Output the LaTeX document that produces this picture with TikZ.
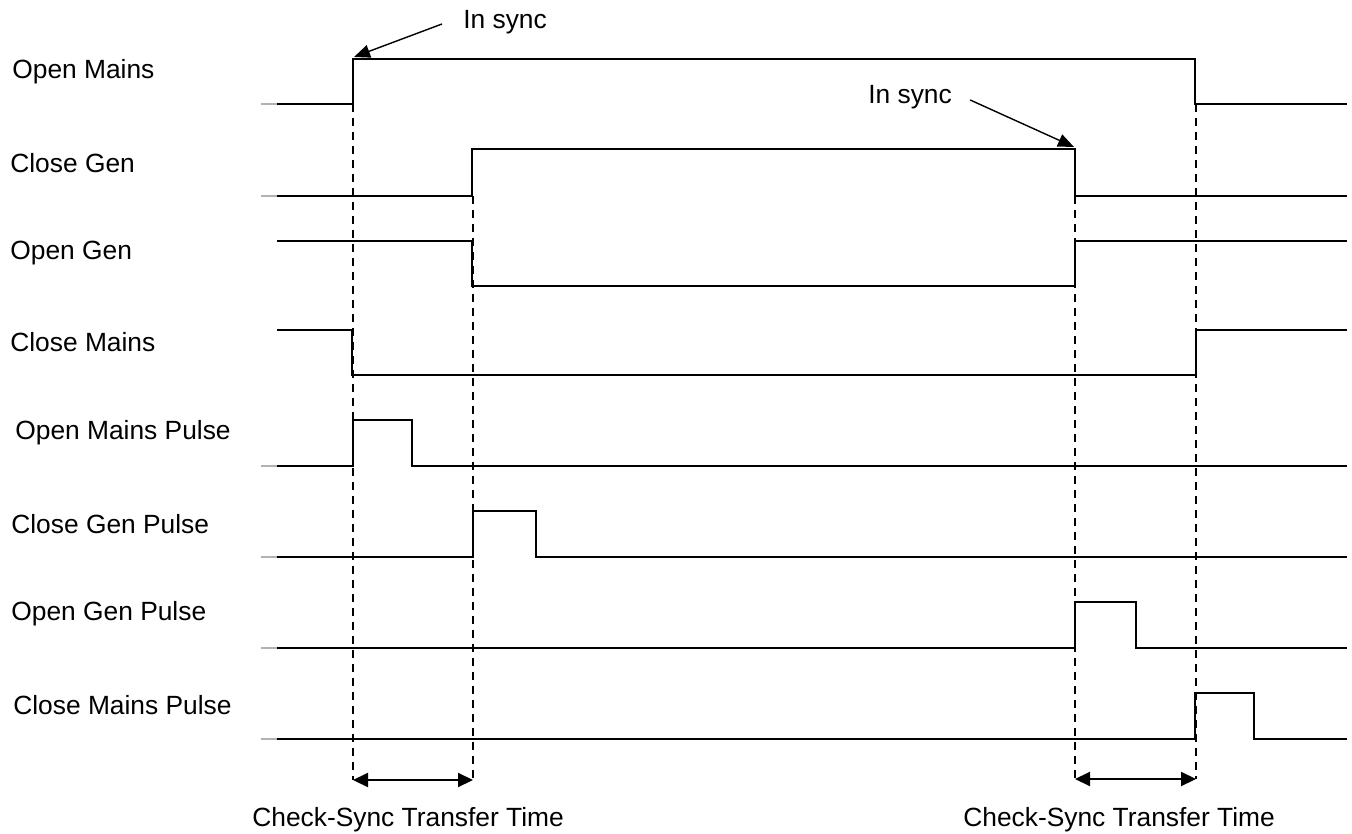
\documentclass[tikz,border=0pt]{standalone}
\usepackage{fontspec}
\setmainfont{Liberation Sans}
\usetikzlibrary{arrows.meta}
\tikzset{
  sig/.style={line width=1.1pt,line join=miter},
  tick/.style={gray!60,line width=0.6pt},
  guide/.style={line width=0.8pt,dash pattern=on 0.17cm off 0.11cm},
  lbl/.style={anchor=west,inner sep=0pt,font=\fontsize{15}{18}\selectfont},
  span/.style={{Triangle[length=0.3cm,width=0.28cm]}-{Triangle[length=0.3cm,width=0.28cm]},line width=1.2pt},
  pointer/.style={-{Triangle[length=0.32cm,width=0.26cm]},line width=0.8pt}
}
\begin{document}
\begin{tikzpicture}[x=0.02cm,y=-0.02cm]
    \useasboundingbox (0,0) rectangle (1352,834);
    % signal names
    \foreach \n/\x/\y/\t in {om/12/72/Open Mains, cg/10/163/Close Gen, og/10/253/Open Gen,
        cm/10/342/Close Mains, omp/15/433/Open Mains Pulse, cgp/11/524/Close Gen Pulse,
        ogp/11/614/Open Gen Pulse, cmp/13/705/Close Mains Pulse}
      \node[lbl] (\n) at (\x,\y) {\t};
    % waveforms
    \foreach \y in {104,196,466,557,648,739}
      \draw[tick] (261,\y) -- (277,\y);
    \draw[sig] (277,104) -- (353,104) -- (353,59) -- (1195,59) -- (1195,104) -- (1347,104);
    \draw[sig] (277,196) -- (472,196) -- (472,149) -- (1075,149) -- (1075,196) -- (1347,196);
    \draw[sig] (277,241) -- (472,241) -- (472,286) -- (1075,286) -- (1075,241) -- (1347,241);
    \draw[sig] (277,330) -- (352,330) -- (352,375) -- (1196,375) -- (1196,330) -- (1347,330);
    \draw[sig] (277,466) -- (353,466) -- (353,420) -- (412,420) -- (412,466) -- (1347,466);
    \draw[sig] (277,557) -- (473,557) -- (473,511) -- (536,511) -- (536,557) -- (1347,557);
    \draw[sig] (277,648) -- (1075,648) -- (1075,602) -- (1136,602) -- (1136,648) -- (1347,648);
    \draw[sig] (277,739) -- (1195,739) -- (1195,693) -- (1254,693) -- (1254,739) -- (1347,739);
    % transfer marks
    \coordinate (a1) at (353,104);  \coordinate (a2) at (353,780);
    \coordinate (b1) at (473,196);  \coordinate (b2) at (473,780);
    \coordinate (c1) at (1075,196); \coordinate (c2) at (1075,779);
    \coordinate (d1) at (1196,104); \coordinate (d2) at (1196,779);
    \foreach \p in {a,b,c,d}
      \draw[guide] (\p1) -- (\p2);
    \draw[span] (a2) -- (b2);
    \draw[span] (c2) -- (d2);
    \node[lbl] (t1) at (252,820) {Check-Sync Transfer Time};
    \node[lbl] (t2) at (963,820) {Check-Sync Transfer Time};
    % sync points
    \node[lbl] (s1) at (463,22) {In sync};
    \node[lbl] (s2) at (868,97) {In sync};
    \coordinate (r1) at (354,57);
    \coordinate (r2) at (1074,147);
    \draw[pointer] ([xshift=-0.42cm,yshift=-0.04cm]s1.west) -- (r1);
    \draw[pointer] ([xshift=0.36cm,yshift=-0.06cm]s2.east) -- (r2);
\end{tikzpicture}
\end{document}
